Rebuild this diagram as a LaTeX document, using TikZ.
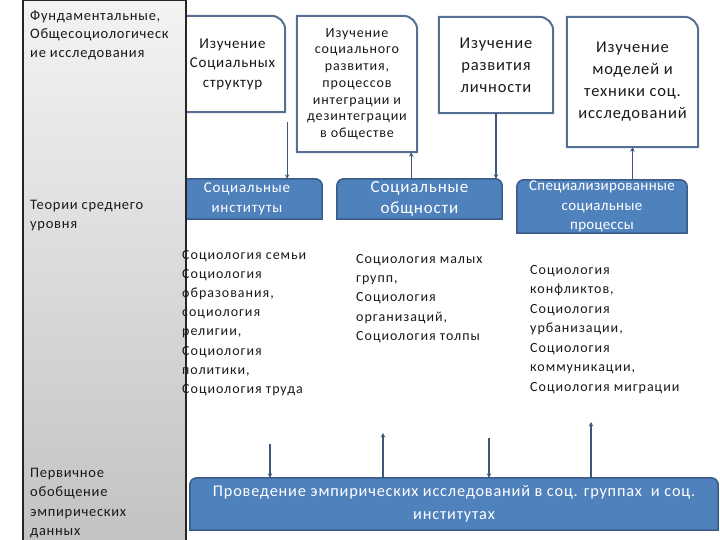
\documentclass[tikz,border=0pt]{standalone}
\usepackage{fontspec}
\setmainfont{Carlito}[LetterSpace=5]
\usetikzlibrary{shapes,arrows,arrows.meta}
\usetikzlibrary{calc}
\definecolor{frameblue}{RGB}{84,112,146}
\definecolor{fillblue}{RGB}{79,129,189}
\definecolor{edgeblue}{RGB}{58,92,136}
\definecolor{arrowblue}{RGB}{62,88,122}
\definecolor{paneltop}{RGB}{243,243,243}
\definecolor{panelbottom}{RGB}{194,194,194}
\pgfdeclarelayer{background}
\pgfsetlayers{background,main}

\begin{document}
\begin{tikzpicture}[x=1pt,y=-1pt,
  panel/.style={draw=black!85, line width=1.5pt, top color=paneltop, bottom color=panelbottom, anchor=north west, inner sep=0},
  paneltext/.style={anchor=west, align=left, inner sep=0, text=black!90},
  studybox/.style={align=center, inner sep=0, text=black!90},
  bluebox/.style={align=center, inner sep=0, text=white},
  listtext/.style={anchor=west, align=left, inner sep=0, text=black!90},
  frameline/.style={draw=frameblue, line width=2pt, fill=white},
  blueline/.style={draw=edgeblue, line width=1.5pt, fill=fillblue},
  flow/.style={draw=arrowblue, line width=1.4pt, -{Stealth[length=4.5pt,width=4.5pt]}}]
\useasboundingbox (0,0) rectangle (720,540);

% left column
\node[panel, minimum width=163, minimum height=545] (panel) at (22,0) {};
\node[paneltext, font=\fontsize{14.5}{18.5}\selectfont] (fund) at (30,35) {Фундаментальные,\\Общесоциологическ\\ие исследования};
\node[paneltext, font=\fontsize{14.5}{19.5}\selectfont] (mid) at (30,215.5) {Теории среднего\\уровня};
\node[paneltext, font=\fontsize{14.5}{19.5}\selectfont] (prim) at (30,503) {Первичное\\обобщение\\эмпирических\\данных};

% top row
\node[studybox, minimum width=105, minimum height=96, font=\fontsize{15}{19.5}\selectfont] (s1) at (232.5,64) {Изучение\\Социальных\\структур};
\node[studybox, minimum width=120, minimum height=136, font=\fontsize{14}{16.7}\selectfont\addfontfeature{LetterSpace=6}] (s2) at (357,84) {Изучение\\социального\\развития,\\процессов\\интеграции и\\дезинтеграции\\в обществе};
\node[studybox, minimum width=114, minimum height=96, font=\fontsize{16.5}{22}\selectfont] (s3) at (496,65) {Изучение\\развития\\личности};
\node[studybox, minimum width=131, minimum height=130, font=\fontsize{16.5}{22}\selectfont] (s4) at (632.5,82) {Изучение\\моделей и\\техники соц.\\исследований};

% middle row
\node[bluebox, minimum width=150, minimum height=40, font=\fontsize{15}{19.5}\selectfont] (inst) at (247,199) {Социальные\\институты};
\node[bluebox, minimum width=165, minimum height=40, font=\fontsize{17}{21}\selectfont] (comm) at (419.5,199) {Социальные\\общности};
\node[bluebox, minimum width=170, minimum height=53, font=\fontsize{15}{19.5}\selectfont\addfontfeature{LetterSpace=2}] (spec) at (602,206.5) {Специализированные\\социальные\\процессы};

% lists
\node[listtext, font=\fontsize{14}{19.2}\selectfont\addfontfeature{LetterSpace=7}] (list1) at (182,323) {Социология семьи\\Социология\\образования,\\социология\\религии,\\Социология\\политики,\\Социология труда};
\node[listtext, font=\fontsize{14}{19.3}\selectfont\addfontfeature{LetterSpace=7}] (list2) at (356,298.5) {Социология малых\\групп,\\Социология\\организаций,\\Социология толпы};
\node[listtext, font=\fontsize{14}{19.5}\selectfont\addfontfeature{LetterSpace=7}] (list3) at (530,329.5) {Социология\\конфликтов,\\Социология\\урбанизации,\\Социология\\коммуникации,\\Социология миграции};

% bottom
\node[bluebox, minimum width=528, minimum height=52, font=\fontsize{16.3}{23}\selectfont] (proc) at (454,504) {Проведение эмпирических исследований в соц. группах \ и соц.\\институтах};

\begin{pgfonlayer}{background}
\foreach \b in {s1,s2,s3,s4}
  \draw[frameline] (\b.south west) -- (\b.north west) -- ([xshift=-14pt]\b.north east) arc[start angle=90, end angle=0, radius=14pt] -- (\b.south east) -- cycle;
\foreach \b in {inst,comm,spec,proc}
  \draw[blueline] (\b.south west) -- ([yshift=-7pt]\b.north west) arc[start angle=180, end angle=90, radius=7pt] -- ([xshift=-7pt]\b.north east) arc[start angle=90, end angle=0, radius=7pt] -- (\b.south east) -- cycle;
\end{pgfonlayer}

% arrows
\coordinate (a1) at ([xshift=2pt,yshift=-10pt]s1.south east);
\coordinate (a2) at ([xshift=-6pt]s2.south east);
\draw[flow] (a1) -- (a1 |- inst.north);
\draw[flow] (a2 |- comm.north) -- (a2);
\draw[flow] (s3.south) -- (s3.south |- comm.north);
\draw[flow] (s4.south |- spec.north) -- (s4.south);

\coordinate (b1) at (270,444);
\coordinate (b2) at (383,433);
\coordinate (b3) at (489,438);
\coordinate (b4) at (591,422);
\draw[flow] (b1) -- (b1 |- proc.north);
\draw[flow] (b2 |- proc.north) -- (b2);
\draw[flow] (b3) -- (b3 |- proc.north);
\draw[flow] (b4 |- proc.north) -- (b4);
\end{tikzpicture}
\end{document}
